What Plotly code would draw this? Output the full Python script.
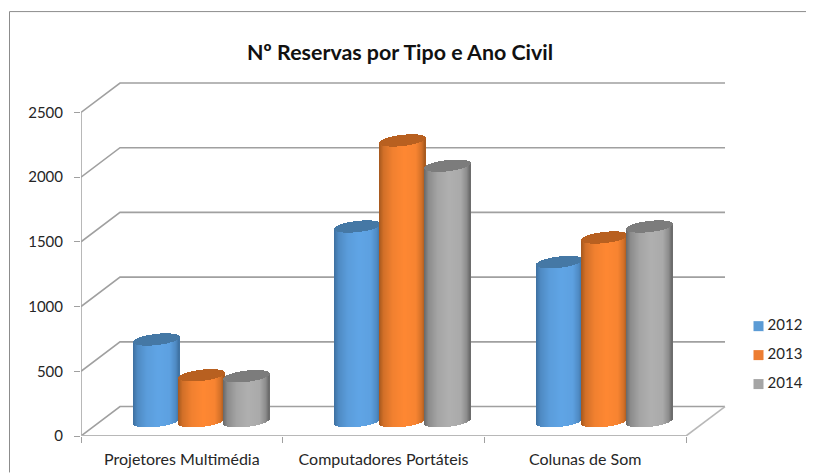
import numpy as np
import plotly.graph_objects as go

# ---- data ----------------------------------------------------------------
categories = ["Projetores Multimédia", "Computadores Portáteis", "Colunas de Som"]
years = ["2012", "2013", "2014"]
values_2012 = [632, 1505, 1230]
values_2013 = [355, 2170, 1420]
values_2014 = [348, 1975, 1505]
y_ticks = [0, 500, 1000, 1500, 2000, 2500]

# ---- palette -------------------------------------------------------------
LEGEND_COLORS = ["#5B9BD5", "#ED7D31", "#A5A5A5"]
PEAK = [(96, 165, 230), (255, 136, 51), (176, 176, 176)]
EDGE = [(62, 112, 160), (165, 88, 30), (104, 104, 104)]
CAP = [(69, 120, 165), (184, 96, 32), (124, 124, 124)]
GRID = "#a0a0a0"
FONT = "Lato, sans-serif"

# ---- pixel geometry of the 3D box ----------------------------------------
# the page body keeps its 8px margin, so the figure starts at (8, 8)
PAGE = 8
W, H = 814 - PAGE, 473 - PAGE
LEFT, FRONT_R, BASE_Y = 81.0 - PAGE, 686.0 - PAGE, 436.5 - PAGE
DX, DY = 39.0, 29.5
PX_PER_CAT = (FRONT_R - LEFT) / 3
PX_PER_VAL = 0.1296
TOP_Y = 78.0 - PAGE
RIGHT = W  # plot area runs to the edge so the key can sit inside the axis range


def dx(px):
    return px / PX_PER_CAT


def dy(px):
    return px / PX_PER_VAL


def cylinder(center, value, series):
    """Body and cap as 1px bar strips so a gradient can run across the bar."""
    half = 23.0
    offs = np.arange(-half + 0.5, half, 1.0)
    c = offs / half
    s = np.sqrt(1 - c ** 2)
    tilt = 2.6 * c          # ellipse leans up to the right
    xs = center + dx(offs)
    floor = dy(DY / 2)

    stops = [0, 0.1, 0.3, 0.55, 0.8, 0.93, 1]
    amount = [0, 0.5, 0.85, 1, 0.92, 0.5, 0]
    f = np.interp((offs + half) / (2 * half), stops, amount)
    body = [
        "rgb(%d,%d,%d)" % tuple(EDGE[series][i] + (PEAK[series][i] - EDGE[series][i]) * k for i in range(3))
        for k in f
    ]
    bottom = floor + dy(tilt - 5.6 * s)
    top_low = value + floor + dy(tilt - 5.6 * s)
    top_high = value + floor + dy(tilt + 5.6 * s)
    width = dx(1.05)
    return [
        go.Bar(x=xs, y=top_low - bottom + dy(0.5), base=bottom, width=width, marker=dict(color=body, line_width=0),
               showlegend=False, hoverinfo="skip"),
        go.Bar(x=xs, y=top_high - top_low, base=top_low, width=width,
               marker=dict(color="rgb(%d,%d,%d)" % CAP[series], line_width=0),
               showlegend=False, hoverinfo="skip"),
    ]


fig = go.Figure()

# cylinders, drawn left to right so later ones sit on earlier ones
all_values = [values_2012, values_2013, values_2014]
for cat in range(len(categories)):
    for ser in range(len(years)):
        center = cat + dx(DX / 2) + (ser - 1) * dx(45.0)
        for tr in cylinder(center, all_values[ser][cat], ser):
            fig.add_trace(tr)

# key on the right: plotly's own legend can't get the swatch this close to the text
for i, (name, col) in enumerate(zip(years, LEGEND_COLORS)):
    fig.add_trace(go.Scatter(
        x=[dx(758.5 - 81) - 0.5], y=[(436.5 - (326.5 + 29 * i)) / PX_PER_VAL], mode="markers+text", name=name,
        text=["\u2009" + name], textposition="middle right", cliponaxis=False, showlegend=False, hoverinfo="name",
        marker=dict(symbol="square", size=10, color=col), textfont=dict(family=FONT, size=15, color="#262626"),
    ))

# left axis line and front floor edge stay unclipped on the plot border
fig.add_trace(go.Scatter(x=[-0.5, -0.5], y=[0, y_ticks[-1]], mode="lines", line=dict(color=GRID, width=1.5),
                         showlegend=False, hoverinfo="skip", cliponaxis=False))
fig.add_trace(go.Scatter(x=[-0.5, 2.5], y=[0, 0], mode="lines", line=dict(color="#b8b8b8", width=2),
                         showlegend=False, hoverinfo="skip", cliponaxis=False))

# walls: every gridline runs from the axis back and then along the back wall
shapes = []
x0, x1, x2 = -0.5, -0.5 + dx(DX), 2.5 + dx(DX)
for t in y_ticks:
    back = t + dy(DY)
    shapes.append(dict(type="path", path=f"M {x0} {t} L {x1} {back} L {x2} {back}", layer="below",
                       line=dict(color=GRID, width=1.6)))
shapes.append(dict(type="line", x0=2.5, y0=0, x1=x2, y1=dy(DY), layer="below", line=dict(color="#b8b8b8", width=1.6)))
# chart frame, only left and top are inside the picture
frame_l = (9.5 - PAGE - LEFT) / (RIGHT - LEFT)
frame_r = (W - LEFT) / (RIGHT - LEFT)
frame_t = (BASE_Y - (11.5 - PAGE)) / (BASE_Y - TOP_Y)
frame_b = (BASE_Y - H) / (BASE_Y - TOP_Y)
shapes.append(dict(type="path", xref="paper", yref="paper", layer="below", line=dict(color="#8c8c8c", width=1),
                   path=f"M {frame_l} {frame_b} L {frame_l} {frame_t} L {frame_r} {frame_t}"))

fig.update_layout(
    width=W, height=H,
    autosize=False,
    barmode="overlay",
    bargap=0,
    showlegend=False,
    margin=dict(l=LEFT, r=W - RIGHT, t=TOP_Y, b=H - BASE_Y, pad=0, autoexpand=False),
    paper_bgcolor="white",
    plot_bgcolor="white",
    font=dict(family=FONT, size=15, color="#262626"),
    title=dict(text="<b>Nº Reservas por Tipo e Ano Civil</b>", x=(400 - PAGE) / W, y=1 - (53 - PAGE) / H,
               xanchor="center", yanchor="middle", font=dict(family=FONT, size=21.4, color="#111111")),
    shapes=shapes,
)
fig.update_xaxes(
    range=[-0.5, -0.5 + dx(RIGHT - LEFT)], tickmode="array", tickvals=[0, 1, 2], ticktext=categories,
    ticks="", showgrid=False, zeroline=False, showline=False, ticklabelstandoff=12,
    tickfont=dict(family=FONT, size=16, color="#262626"),
    minor=dict(tickmode="array", tickvals=[-0.5, 0.5, 1.5, 2.5], ticks="outside", ticklen=6, tickcolor=GRID,
               tickwidth=1, showgrid=False),
)
fig.update_yaxes(
    range=[0, (BASE_Y - TOP_Y) / PX_PER_VAL], tickmode="array", tickvals=y_ticks,
    ticks="outside", ticklen=6, tickcolor=GRID, tickwidth=1, showgrid=False, zeroline=False, showline=False,
    ticklabelstandoff=8, tickfont=dict(family=FONT, size=15, color="#262626"),
)

fig.write_html("out.html")
